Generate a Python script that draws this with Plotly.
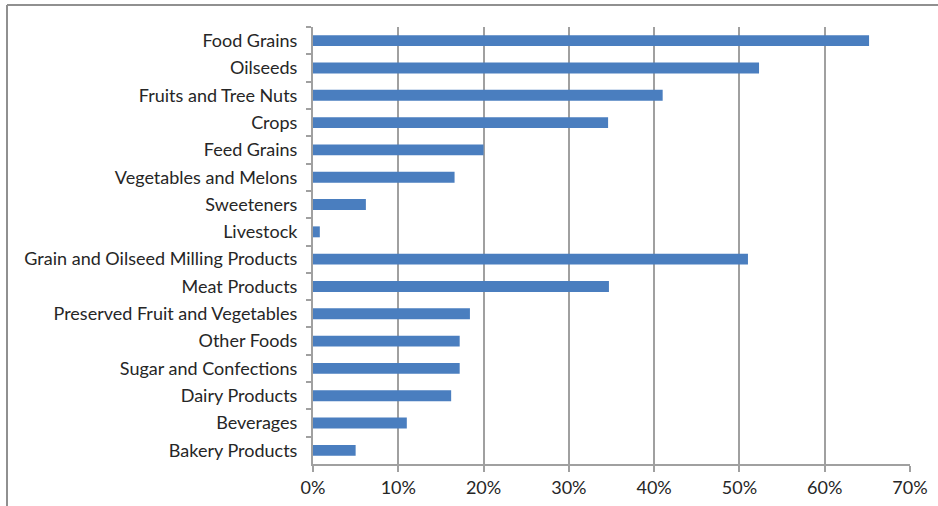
import plotly.graph_objects as go

categories = ["Food Grains", "Oilseeds", "Fruits and Tree Nuts", "Crops", "Feed Grains",
              "Vegetables and Melons", "Sweeteners", "Livestock",
              "Grain and Oilseed Milling Products", "Meat Products",
              "Preserved Fruit and Vegetables", "Other Foods", "Sugar and Confections",
              "Dairy Products", "Beverages", "Bakery Products"]
values = [0.652, 0.523, 0.410, 0.346, 0.200, 0.166, 0.062, 0.008,
          0.510, 0.347, 0.184, 0.172, 0.172, 0.162, 0.110, 0.050]
x_ticks = [0, 0.1, 0.2, 0.3, 0.4, 0.5, 0.6, 0.7]
x_labels = ["0%", "10%", "20%", "30%", "40%", "50%", "60%", "70%"]

fig = go.Figure(go.Bar(
    x=values, y=categories, orientation="h",
    marker=dict(color="#4a7ebf", line=dict(width=0)),
    hoverinfo="x+y",
))

fig.update_layout(
    width=938, height=506,
    margin=dict(l=313, r=28, t=27, b=42),
    paper_bgcolor="white", plot_bgcolor="white",
    bargap=0.6,
    showlegend=False,
    font=dict(family="Lato, sans-serif", size=18, color="#262626"),
    xaxis=dict(range=[0, 0.7], tickvals=x_ticks, ticktext=x_labels,
               showgrid=True, gridcolor="#a0a0a0", gridwidth=2,
               showline=True, linecolor="#a0a0a0", linewidth=2,
               ticks="outside", ticklen=6, tickwidth=2, tickcolor="#a0a0a0",
               zeroline=False, fixedrange=True, automargin=False),
    yaxis=dict(autorange="reversed", type="category",
               showline=True, linecolor="#a0a0a0", linewidth=2,
               ticks="outside", ticklen=5, tickwidth=1.5, tickcolor="#a0a0a0",
               tickson="boundaries", showgrid=False, ticklabelstandoff=10,
               fixedrange=True, automargin=False),
    shapes=[
        dict(type="line", xref="paper", yref="paper",
             x0=-306/597, x1=1.1, y0=1 + 22/437, y1=1 + 22/437,
             line=dict(color="#909090", width=2)),
        dict(type="line", xref="paper", yref="paper",
             x0=-306/597, x1=-306/597, y0=1 + 22/437, y1=-0.2,
             line=dict(color="#909090", width=2)),
    ],
)

fig.write_html("out.html")
